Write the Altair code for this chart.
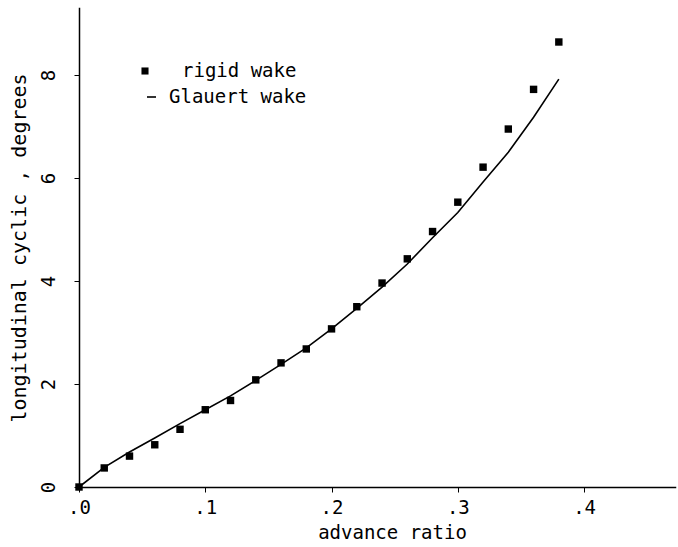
import altair as alt
import pandas as pd

# Advance ratio (mu) and longitudinal cyclic pitch, degrees
mu = [0.00, 0.02, 0.04, 0.06, 0.08, 0.10, 0.12, 0.14, 0.16, 0.18,
      0.20, 0.22, 0.24, 0.26, 0.28, 0.30, 0.32, 0.34, 0.36, 0.38]
rigid_wake = [0.00, 0.37, 0.60, 0.82, 1.12, 1.50, 1.68, 2.08, 2.41, 2.68,
              3.07, 3.50, 3.96, 4.43, 4.96, 5.53, 6.21, 6.95, 7.72, 8.64]
glauert_wake = [0.00, 0.38, 0.68, 0.95, 1.23, 1.50, 1.77, 2.07, 2.38, 2.70,
                3.07, 3.47, 3.88, 4.33, 4.84, 5.33, 5.92, 6.50, 7.18, 7.92]

x_ticks = [0.0, 0.1, 0.2, 0.3, 0.4]
y_ticks = [0, 2, 4, 6, 8]

FONT = "DejaVu Sans Mono"
FS = 19

df = pd.DataFrame({"mu": mu, "rigid": rigid_wake, "glauert": glauert_wake})

x_enc = alt.X(
    "mu:Q",
    scale=alt.Scale(domain=[0, 0.472], nice=False, zero=False),
    axis=alt.Axis(
        values=x_ticks,
        labelExpr="replace(format(datum.value, '.1f'), '0.', '.')",
        labelFlush=False,
        labelOverlap=False,
        title="advance ratio",
        titleX=313,
        titleFontSize=FS,
        titleFont=FONT,
        titleFontWeight="normal",
        titlePadding=6,
        labelFontSize=FS,
        labelFont=FONT,
        labelPadding=6,
        tickSize=5,
        grid=False,
        domainColor="black",
        tickColor="black",
        labelColor="black",
        titleColor="black",
        domainWidth=1.5,
    ),
)

y_axis = alt.Axis(
    values=y_ticks,
    title="longitudinal cyclic , degrees",
    titleFontSize=20,
    titleFont=FONT,
    titleFontWeight="normal",
    titlePadding=10,
    labelFontSize=FS,
    labelFont=FONT,
    labelAngle=-90,
    labelAlign="center",
    labelBaseline="bottom",
    labelFlush=False,
    labelOverlap=False,
    labelPadding=16,
    tickSize=5,
    grid=False,
    domainColor="black",
    tickColor="black",
    labelColor="black",
    titleColor="black",
    domainWidth=1.5,
)
y_scale = alt.Scale(domain=[0, 9.3], nice=False, zero=False)

line = alt.Chart(df).mark_line(color="black", strokeWidth=1.6).encode(
    x=x_enc,
    y=alt.Y("glauert:Q", scale=y_scale, axis=y_axis),
)

points = alt.Chart(df).mark_point(
    shape="square", filled=True, color="black", size=55, opacity=1
).encode(
    x="mu:Q",
    y=alt.Y("rigid:Q", scale=y_scale),
)

# Key in the upper left of the plot area (pixel offsets inside the plot)
legend_text = alt.Chart(pd.DataFrame({
    "label": ["rigid wake", "Glauert wake"],
    "py": [63, 89],
    "px": [103, 90],
})).mark_text(
    align="left", baseline="middle", font=FONT, fontSize=FS, color="black"
).encode(
    text="label:N",
    x=alt.X("px:Q", scale=None),
    y=alt.Y("py:Q", scale=None),
)

legend_marker = alt.Chart(pd.DataFrame({"px": [66], "py": [63]})).mark_point(
    shape="square", filled=True, color="black", size=50, opacity=1
).encode(x=alt.X("px:Q", scale=None), y=alt.Y("py:Q", scale=None))

legend_dash = alt.Chart(pd.DataFrame({"px": [68], "px2": [77], "py": [89]})).mark_rule(
    color="black", strokeWidth=1.6
).encode(
    x=alt.X("px:Q", scale=None),
    x2="px2:Q",
    y=alt.Y("py:Q", scale=None),
)

chart = alt.layer(line, points, legend_marker, legend_dash, legend_text).properties(
    width=596,
    height=479,
    padding={"left": 79, "top": 8, "right": 3, "bottom": 60},
    autosize=alt.AutoSizeParams(type="none"),
    background="white",
).configure_view(stroke=None).configure_axis(domainCap="square")

chart.save("out.html", embed_options={"renderer": "svg", "actions": False})
